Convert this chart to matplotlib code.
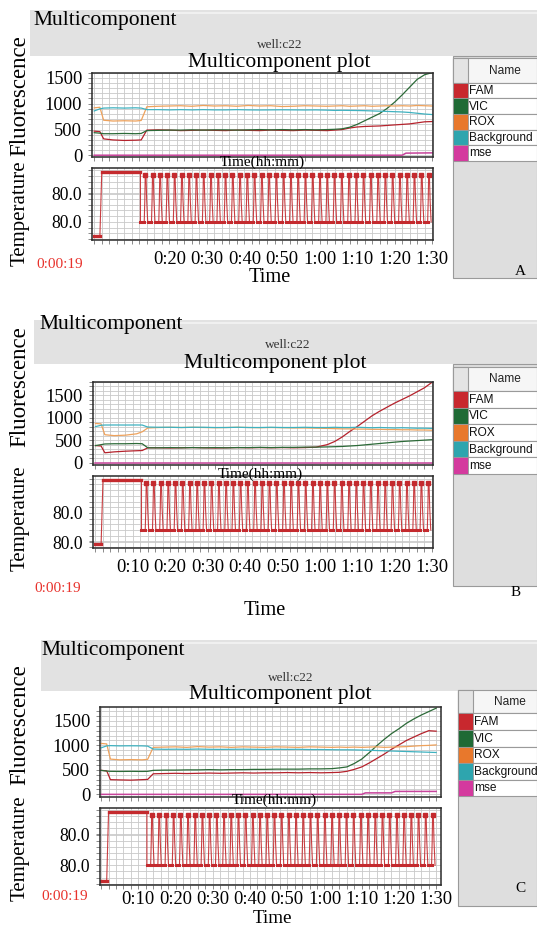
import numpy as np
import matplotlib
matplotlib.use("Agg")
import matplotlib.pyplot as plt
from matplotlib.patches import Rectangle
from matplotlib.ticker import MultipleLocator

W, H = 537, 927
SERIF = "Liberation Serif"
SANS = "Liberation Sans"

# sampling times (min) of the fluorescence readings, shared by all panels
T = [0, 1.5, 2.5, 5, 8, 11, 12.5, 14, 17, 20, 23, 26, 29, 32, 35, 38, 41, 44, 47,
     50, 53, 56, 59, 62, 64, 66, 68, 70, 72, 74, 76, 78, 80, 82, 84, 86, 88, 90]

# panel A
FAM_A = [470, 460, 320, 300, 290, 295, 300, 490, 495, 490, 480, 485, 490, 485, 480, 490, 485, 480, 490,
         485, 480, 490, 485, 480, 490, 500, 530, 550, 560, 565, 570, 580, 590, 600, 610, 630, 650, 655]
VIC_A = [440, 430, 420, 420, 425, 420, 425, 480, 485, 490, 490, 495, 490, 495, 495, 490, 495, 500, 495,
         500, 495, 500, 495, 500, 505, 515, 545, 600, 670, 740, 810, 910, 1030, 1170, 1320, 1470, 1560, 1600]
ROX_A = [920, 930, 680, 665, 670, 665, 675, 940, 950, 955, 960, 950, 965, 955, 960, 950, 965, 955, 960,
         945, 950, 960, 955, 950, 955, 960, 950, 955, 960, 950, 955, 960, 955, 960, 955, 965, 960, 955]
BKG_A = [860, 900, 915, 920, 915, 920, 915, 885, 885, 880, 885, 880, 885, 880, 880, 885, 880, 878, 880,
         882, 880, 878, 880, 875, 870, 872, 870, 868, 865, 860, 855, 850, 845, 840, 830, 815, 800, 790]
MSE_T_A = [0, 82, 83, 90]
MSE_A = [5, 5, 45, 50]

# panel B
FAM_B = [380, 370, 220, 240, 255, 265, 270, 330, 330, 325, 330, 335, 330, 325, 330, 335, 330, 335, 330,
         335, 330, 335, 345, 400, 470, 570, 690, 800, 920, 1040, 1140, 1230, 1320, 1400, 1480, 1570, 1660, 1780]
VIC_B = [380, 400, 415, 420, 420, 425, 420, 330, 330, 335, 330, 335, 330, 335, 330, 335, 335, 340, 335,
         340, 340, 345, 345, 350, 355, 360, 370, 380, 395, 410, 425, 440, 455, 470, 480, 490, 500, 510]
ROX_B = [870, 860, 620, 600, 610, 640, 685, 770, 780, 785, 780, 785, 780, 775, 780, 785, 780, 775, 780,
         775, 770, 770, 765, 760, 755, 750, 750, 745, 745, 740, 740, 735, 735, 730, 730, 725, 725, 720]
BKG_B = [800, 830, 835, 836, 835, 836, 835, 790, 785, 785, 780, 785, 785, 780, 780, 785, 780, 780, 785,
         780, 780, 785, 780, 780, 785, 780, 780, 785, 780, 775, 780, 775, 770, 775, 770, 765, 765, 760]
MSE_T_B = [0, 90]
MSE_B = [0, 0]

# panel C
FAM_C = [490, 480, 300, 295, 290, 300, 305, 420, 425, 430, 425, 430, 435, 430, 435, 440, 435, 440, 440,
         445, 440, 445, 440, 445, 450, 470, 510, 560, 640, 730, 820, 920, 1010, 1100, 1170, 1240, 1300, 1290]
VIC_C = [490, 475, 470, 468, 470, 468, 470, 490, 495, 495, 500, 500, 505, 500, 505, 505, 510, 510, 515,
         515, 515, 520, 520, 525, 540, 560, 630, 720, 850, 990, 1120, 1240, 1340, 1450, 1540, 1620, 1690, 1760]
ROX_C = [1040, 1030, 720, 705, 710, 705, 715, 960, 965, 970, 960, 975, 965, 970, 960, 970, 965, 960, 970,
         965, 960, 970, 965, 960, 965, 960, 965, 960, 965, 970, 960, 965, 970, 975, 985, 995, 1000, 1010]
BKG_C = [950, 990, 995, 990, 992, 990, 985, 925, 920, 922, 920, 925, 920, 918, 920, 922, 920, 918, 920,
         918, 920, 915, 915, 912, 910, 910, 908, 905, 900, 895, 890, 885, 880, 875, 870, 865, 860, 855]
MSE_T_C = [0, 70, 71, 78, 79, 90]
MSE_C = [0, 0, 30, 30, 60, 60]

# thermal protocol (min, degC)
INIT_END, HOLD_START, HOLD_END, RUN_END = 1.5, 2.0, 12.3, 89.7
INIT_TEMP, HOLD_TEMP = 50, 95
N_CYCLES = 40
CYCLE_STEP = [0.0, 0.52, 0.6, 0.66, 0.76, 0.86]      # fraction of one cycle
CYCLE_TEMP = [60, 60, 75, 93, 93, 75]

SERIES = ["FAM", "VIC", "ROX", "Background", "mse"]
CELL_COLORS = ["#c8282e", "#1f6a35", "#e8782c", "#2ea5ae", "#d43a9e"]
LINE_COLORS = ["#b5222c", "#2c6a38", "#eea25c", "#3fb2c0", "#c8449c"]
TEMP_COLOR = "#c42a2e"

PANELS = [
    dict(fam=FAM_A, vic=VIC_A, rox=ROX_A, bkg=BKG_A, mse_t=MSE_T_A, mse=MSE_A, letter="A",
         hdr=(30, 10, 537, 56), hdr_x=33, hdr_y=21, well=(280, 44.5), title=(279, 62),
         fax=(92, 72.6, 433, 156.5), fylim=(-20, 1600), tfl=(262, 162),
         tax=(92, 167.8, 433, 239.7), tylim=(47.6, 97.8), tyt=[60, 79.6], xlim=(-0.6, 90.2),
         xt=[20, 30, 40, 50, 60, 70, 80, 90], xpad=5, clock=(60, 264), time=(270, 277.5, 14.7),
         let=(520, 272), fl=(20, 96), tl=(20, 213), tab=(453, 58.3, 24.4, 15.6), side_bottom=278),
    dict(fam=FAM_B, vic=VIC_B, rox=ROX_B, bkg=BKG_B, mse_t=MSE_T_B, mse=MSE_B, letter="B",
         hdr=(34, 320, 537, 364), hdr_x=39, hdr_y=325, well=(288, 344.5), title=(275, 364),
         fax=(92.5, 381.5, 433, 465.4), fylim=(-60, 1800), tfl=(260, 474),
         tax=(92.5, 476.2, 433, 548), tylim=(47.4, 97.8), tyt=[51.6, 72.1], xlim=(-0.8, 90.3),
         xt=[10, 20, 30, 40, 50, 60, 70, 80, 90], xpad=5, clock=(58, 588), time=(265, 610.5, 14.7),
         let=(516, 592), fl=(20, 387), tl=(20, 518), tab=(452.7, 366.8, 24.2, 16.6), side_bottom=586),
    dict(fam=FAM_C, vic=VIC_C, rox=ROX_C, bkg=BKG_C, mse_t=MSE_T_C, mse=MSE_C, letter="C",
         hdr=(41, 640, 537, 691), hdr_x=41, hdr_y=651, well=(291, 678), title=(280, 695),
         fax=(100, 707, 441, 796.8), fylim=(-50, 1784), tfl=(274, 800),
         tax=(100, 807.8, 441, 885.2), tylim=(47, 97.5), tyt=[60, 80.1], xlim=(-0.3, 91.3),
         xt=[10, 20, 30, 40, 50, 60, 70, 80, 90], xpad=1.5, clock=(65, 897), time=(272, 918.5, 13.8),
         let=(520, 889), fl=(20, 725), tl=(20, 848), tab=(458.3, 690, 23.3, 16.6), side_bottom=906),
]

fig = plt.figure(figsize=(W / 100, H / 100), dpi=100)
bg = fig.add_axes([0, 0, 1, 1], zorder=-5)
bg.set_xlim(0, W)
bg.set_ylim(H, 0)
bg.axis("off")


def fbox(x0, y0, x1, y1):
    return [x0 / W, 1 - y1 / H, (x1 - x0) / W, (y1 - y0) / H]


def ftext(x, y, s, **kw):
    kw.setdefault("family", SERIF)
    kw.setdefault("ha", "center")
    kw.setdefault("va", "center")
    fig.text(x / W, 1 - y / H, s, **kw)


def temp_profile():
    period = (RUN_END - HOLD_END) / N_CYCLES
    tt = [0, INIT_END, HOLD_START, HOLD_END]
    vv = [INIT_TEMP, INIT_TEMP, HOLD_TEMP, HOLD_TEMP]
    low_t, low_v, top_t = [], [], []
    for k in range(N_CYCLES):
        c = HOLD_END + k * period
        tt += [c + f * period for f in CYCLE_STEP]
        vv += CYCLE_TEMP
        low_t += [c, c + CYCLE_STEP[1] * period, np.nan]
        low_v += [CYCLE_TEMP[0], CYCLE_TEMP[1], np.nan]
        top_t.append(c + CYCLE_STEP[3] * period)
    tt.append(RUN_END)
    vv.append(CYCLE_TEMP[0])
    return tt, vv, low_t, low_v, top_t


def style_axes(ax):
    for sp in ax.spines.values():
        sp.set_color("#2a2a2a")
        sp.set_linewidth(1.1)
    ax.grid(which="both", color="#c9c9c9", lw=0.6)
    ax.set_axisbelow(True)
    ax.tick_params(which="both", direction="out", color="#8a8a8a", length=3, width=0.7)
    ax.tick_params(axis="y", which="major", labelsize=13.3, pad=4)
    ax.xaxis.set_major_locator(MultipleLocator(10))
    ax.xaxis.set_minor_locator(MultipleLocator(2))
    for lab in ax.get_yticklabels() + ax.get_xticklabels():
        lab.set_family(SERIF)


tt, vv, low_t, low_v, top_t = temp_profile()

for p in PANELS:
    # grey header strip and side panel
    x0, y0, x1, y1 = p["hdr"]
    bg.add_patch(Rectangle((x0, y0), x1 - x0, y1 - y0, color="#e2e2e2", lw=0))
    bg.plot([x0 + 72, x1], [y0 + 3, y0 + 3], color="#f4f4f4", lw=1.2)
    tx, ty, hh, rh = p["tab"]
    bg.add_patch(Rectangle((tx, y1), W - tx, p["side_bottom"] - y1, facecolor="#dedede",
                           edgecolor="#9a9a9a", lw=0.8))
    bg.add_patch(Rectangle((tx, ty), W - tx, hh, facecolor="#f6f6f6", edgecolor="#9a9a9a", lw=0.8))
    bg.add_patch(Rectangle((tx, ty), 15, hh, facecolor="#e4e4e4", edgecolor="#9a9a9a", lw=0.8))
    ftext(tx + 52, ty + hh / 2, "Name", family=SANS, fontsize=8.6, color="#222222")
    for i, (name, col) in enumerate(zip(SERIES, CELL_COLORS)):
        ry = ty + hh + i * rh
        bg.add_patch(Rectangle((tx, ry), W - tx, rh, facecolor="white", edgecolor="#9a9a9a", lw=0.8))
        bg.add_patch(Rectangle((tx, ry), 15, rh, facecolor=col, edgecolor="#9a9a9a", lw=0.6))
        ftext(tx + 16, ry + rh / 2 + 0.5, name, family=SANS, fontsize=8.6, ha="left", color="#111111")

    ftext(p["hdr_x"], p["hdr_y"], "Multicomponent", fontsize=15.5, ha="left")
    ftext(*p["well"], "well:c22", fontsize=9.5, color="#333333")
    ftext(*p["title"], "Multicomponent plot", fontsize=15.5)
    ftext(*p["fl"], "Fluorescence", fontsize=16.5, rotation=90)
    ftext(*p["tl"], "Temperature", fontsize=15, rotation=90)
    ftext(*p["tfl"], "Time(hh:mm)", fontsize=11)
    ftext(*p["clock"], "0:00:19", fontsize=11, color="#e8322c")
    tx_, ty_, tsize = p["time"]
    ftext(tx_, ty_, "Time", fontsize=tsize)
    ftext(*p["let"], p["letter"], fontsize=11)

    # fluorescence
    ax = fig.add_axes(fbox(*p["fax"]))
    for vals, col in zip([p["fam"], p["vic"], p["rox"], p["bkg"]], LINE_COLORS[:4]):
        ax.plot(T, vals, color=col, lw=0.9)
    ax.plot(p["mse_t"], p["mse"], color=LINE_COLORS[4], lw=1.1)
    ax.set_xlim(*p["xlim"])
    ax.set_ylim(*p["fylim"])
    ax.set_yticks([0, 500, 1000, 1500])
    ax.yaxis.set_minor_locator(MultipleLocator(100))
    style_axes(ax)
    ax.set_xticklabels([])

    # temperature
    ax2 = fig.add_axes(fbox(*p["tax"]))
    ax2.plot(tt, vv, color=TEMP_COLOR, lw=0.8, alpha=0.9)
    ax2.plot([0, INIT_END], [INIT_TEMP, INIT_TEMP], color=TEMP_COLOR, lw=2.4)
    ax2.plot([HOLD_START, HOLD_END], [HOLD_TEMP, HOLD_TEMP], color=TEMP_COLOR, lw=2.4)
    ax2.plot(low_t, low_v, color=TEMP_COLOR, lw=2.2)
    ax2.plot(top_t, [CYCLE_TEMP[3]] * len(top_t), "s", color=TEMP_COLOR, ms=2.6)
    ax2.set_xlim(*p["xlim"])
    ax2.set_ylim(*p["tylim"])
    ax2.set_yticks(p["tyt"], labels=["80.0"] * len(p["tyt"]))
    ax2.yaxis.set_minor_locator(MultipleLocator(4))
    style_axes(ax2)
    ax2.tick_params(axis="y", which="major", labelsize=12.7)
    ax2.set_xticks(p["xt"], labels=[f"{m // 60}:{m % 60:02d}" for m in p["xt"]])
    ax2.tick_params(axis="x", which="major", labelsize=13.3, pad=p["xpad"])
    for lab in ax2.get_yticklabels() + ax2.get_xticklabels():
        lab.set_family(SERIF)

fig.savefig("out.png", dpi=100)
